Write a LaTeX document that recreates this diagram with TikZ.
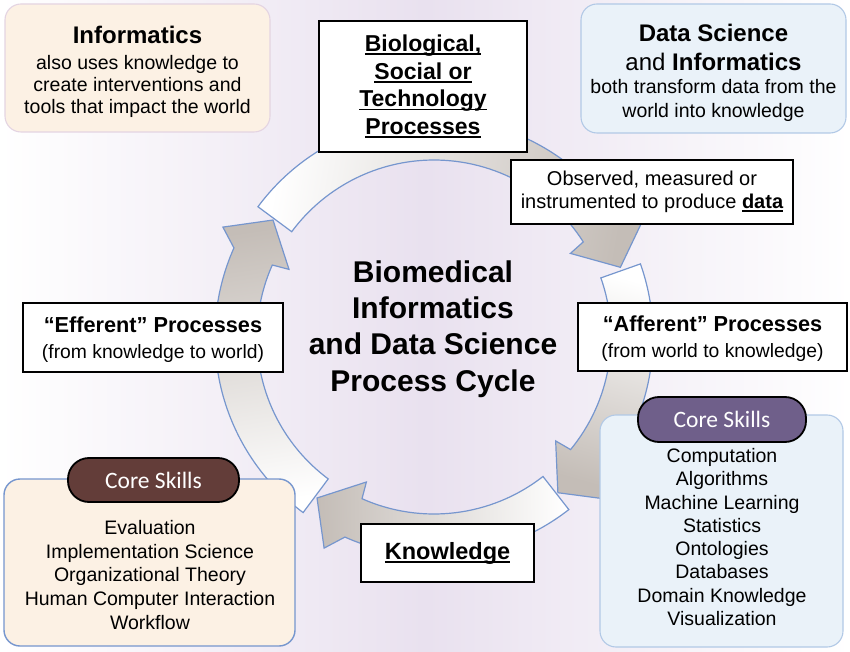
\documentclass[tikz,border=0pt]{standalone}
\usepackage{fontspec}
\setmainfont{Liberation Sans}
\newfontfamily\calibri{Carlito}
\usepackage{tikz}
\definecolor{lavande}{RGB}{233,225,239}
\definecolor{peche}{RGB}{252,241,228}
\definecolor{rosebord}{RGB}{228,212,226}
\definecolor{ciel}{RGB}{234,242,249}
\definecolor{cielbord}{RGB}{178,201,230}
\definecolor{bleu}{RGB}{118,150,206}
\definecolor{grisfl}{RGB}{196,189,183}
\definecolor{brun}{RGB}{99,61,57}
\definecolor{mauve}{RGB}{111,95,138}
\newcommand{\souligne}[1]{\setbox0=\hbox{#1}\rlap{\rule[-0.15em]{\wd0}{0.08em}}\box0}

\begin{document}
\begin{tikzpicture}[x=1pt,y=1pt,
	cadre/.style={draw=black,line width=1.6pt,fill=white},
	bulle/.style={rounded corners=16pt,line width=1.1pt},
	pilule/.style={draw=black,line width=1.8pt,rounded corners=21pt},
	fleche/.style={draw=bleu,line width=1.2pt},
	txt/.style={align=center,inner sep=0pt}]
					\shade[left color=white,right color=white,middle color=lavande](0,0) rectangle (850,651);
					
					% cycle
					\begin{scope}[shift={(434,314)}]
						\foreach \deb/\fin/\ang in {143.5/20.5/80,19.5/-51.5/-16,-52/-126/-89,233.3/144/-171.5}
						\draw[fleche,top color=white,bottom color=grisfl,shading angle=\ang]
						(\deb:219) arc[start angle=\deb,end angle=\fin+12,radius=219pt]
						-- ({\fin+8.5}:238) -- (\fin:199) -- ({\fin+11}:160) -- ({\fin+12}:177)
						arc[start angle=\fin+12,end angle=\deb,radius=177pt] -- cycle;
					\end{scope}
					
					\draw[cadre](319,499) rectangle (527,630) node[midway,txt,font=\fontsize{23}{27.7}\selectfont\bfseries] (bio) {\souligne{Biological,}\\\souligne{Social or}\\\souligne{Technology}\\\souligne{Processes}};
					\draw[cadre](511,427) rectangle (793,491) node[midway,txt,font=\fontsize{20}{23}\selectfont] (obs) {Observed, measured or\\instrumented to produce \souligne{\textbf{data}}};
					\draw[cadre](578,280) rectangle (847,348) node[midway,txt,yshift=-2pt,font=\fontsize{19.3}{26}\selectfont] (aff) {{\fontsize{21.7}{26}\selectfont\bfseries “Afferent” Processes}\\(from world to knowledge)};
					\draw[cadre](23,279) rectangle (283,348) node[midway,txt,yshift=-2pt,font=\fontsize{19.3}{26}\selectfont] (eff) {{\fontsize{21.7}{26}\selectfont\bfseries “Efferent” Processes}\\(from knowledge to world)};
					\draw[cadre](361,69) rectangle (534,127) node[midway,txt,font=\fontsize{23.5}{28}\selectfont\bfseries] (know) {\souligne{Knowledge}};
					
					\draw[bulle,draw=rosebord,fill=peche](5,519) rectangle (270,647);
					\node[txt,font=\fontsize{24}{28}\selectfont\bfseries] (info) at (137.5,616) {Informatics};
					\node[txt,font=\fontsize{19.5}{22}\selectfont] (infotxt) at (137.5,565) {also uses knowledge to\\create interventions and\\tools that impact the world};
					
					\draw[bulle,draw=cielbord,fill=ciel](581,518) rectangle (846,647);
					\node[txt,font=\fontsize{24}{29}\selectfont] (ds) at (713.5,603.5) {\textbf{Data Science}\\and \textbf{Informatics}};
					\node[txt,font=\fontsize{19.5}{24}\selectfont] (dstxt) at (713.5,551) {both transform data from the\\world into knowledge};
					
					\draw[bulle,draw=bleu,fill=peche,line width=1.4pt](4,5) rectangle (295,172);
					\draw[pilule,fill=brun](68,149) rectangle (239,193) node[midway,text=white,font=\calibri\fontsize{23.5}{28}\selectfont] (csg) {Core Skills};
					\node[txt,font=\fontsize{19.5}{23.75}\selectfont] (listeg) at (150,76) {Evaluation\\Implementation Science\\Organizational Theory\\Human Computer Interaction\\Workflow};
					
					\draw[bulle,draw=cielbord,fill=ciel](600,4) rectangle (843,236);
					\draw[pilule,fill=mauve](638,209) rectangle (806,254) node[midway,text=white,font=\calibri\fontsize{23.5}{28}\selectfont] (csd) {Core Skills};
					\node[txt,font=\fontsize{19.5}{23.3}\selectfont] (listed) at (722,114) {Computation\\Algorithms\\Machine Learning\\Statistics\\Ontologies\\Databases\\Domain Knowledge\\Visualization};
					
					\node[txt,font=\fontsize{30}{36.3}\selectfont\bfseries] (titre) at (433,322) {Biomedical\\Informatics\\and Data Science\\Process Cycle};
				\end{tikzpicture}
\end{document}
